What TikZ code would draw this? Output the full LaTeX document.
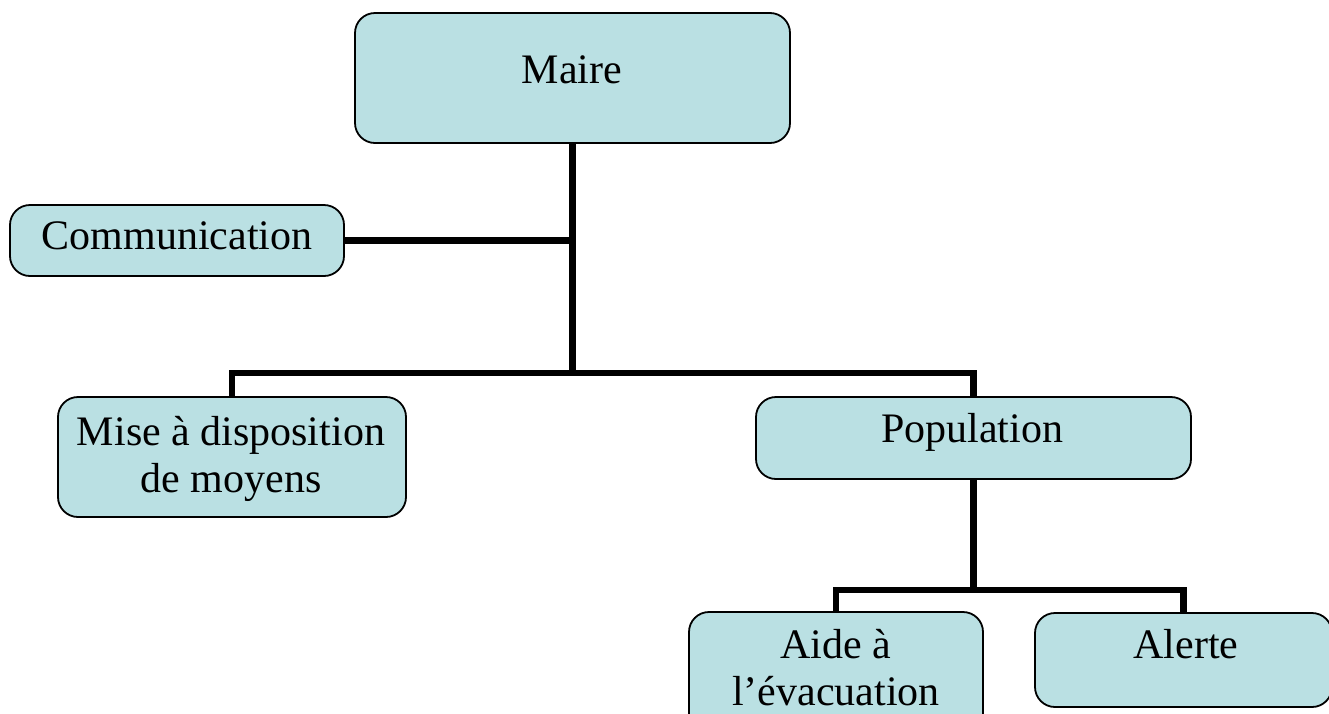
\documentclass[tikz,border=0pt]{standalone}
\usepackage{fontspec}
\setmainfont{Liberation Serif}
\definecolor{boxfill}{RGB}{186,224,227}
\tikzset{
  box/.style={draw=black, line width=1.8pt, fill=boxfill, rounded corners=20pt, inner sep=0pt},
  txt/.style={inner sep=0pt, font=\fontsize{42}{47}\selectfont, align=center},
  conn/.style={draw=black, line width=6.5pt}
}
\begin{document}
\begin{tikzpicture}[x=1pt,y=-1pt]
\useasboundingbox (0,0) rectangle (1329,713);
% boxes
\node[box, minimum width=435pt, minimum height=130pt] (maire) at (572.5,78) {};
\node[box, minimum width=334pt, minimum height=71pt] (comm) at (177,240.5) {};
\node[box, minimum width=348pt, minimum height=120pt] (mise) at (232,457) {};
\node[box, minimum width=435pt, minimum height=82pt] (pop) at (973.5,438) {};
\node[box, minimum width=294pt, minimum height=130pt] (aide) at (836,677) {};
\node[box, minimum width=297pt, minimum height=94pt] (alerte) at (1183.5,660) {};
% texts
\node[txt, anchor=base] (maireT) at (572,83) {Maire};
\node[txt, anchor=base] (commT) at (177,249) {Communication};
\node[txt, anchor=base] (popT) at (972,442) {Population};
\node[txt, anchor=base] (alerteT) at (1186,658) {Alerte};
\node[txt] (miseT) at (231,459) {Mise à disposition\\de moyens};
\node[txt] (aideT) at (836,668) {Aide à\\l’évacuation};
% junctions
\coordinate (j1) at (572.5,240.5);
\coordinate (j2) at (572.5,373);
\coordinate (j3) at (973.5,590);
% connectors
\draw[conn] (maire.south) -- (j2);
\draw[conn] (comm.east) -- (j1);
\draw[conn] (mise.north) |- (j2) -| (pop.north);
\draw[conn] (pop.south) -- (j3);
\draw[conn] (aide.north) |- (j3) -| (alerte.north);
\end{tikzpicture}
\end{document}
